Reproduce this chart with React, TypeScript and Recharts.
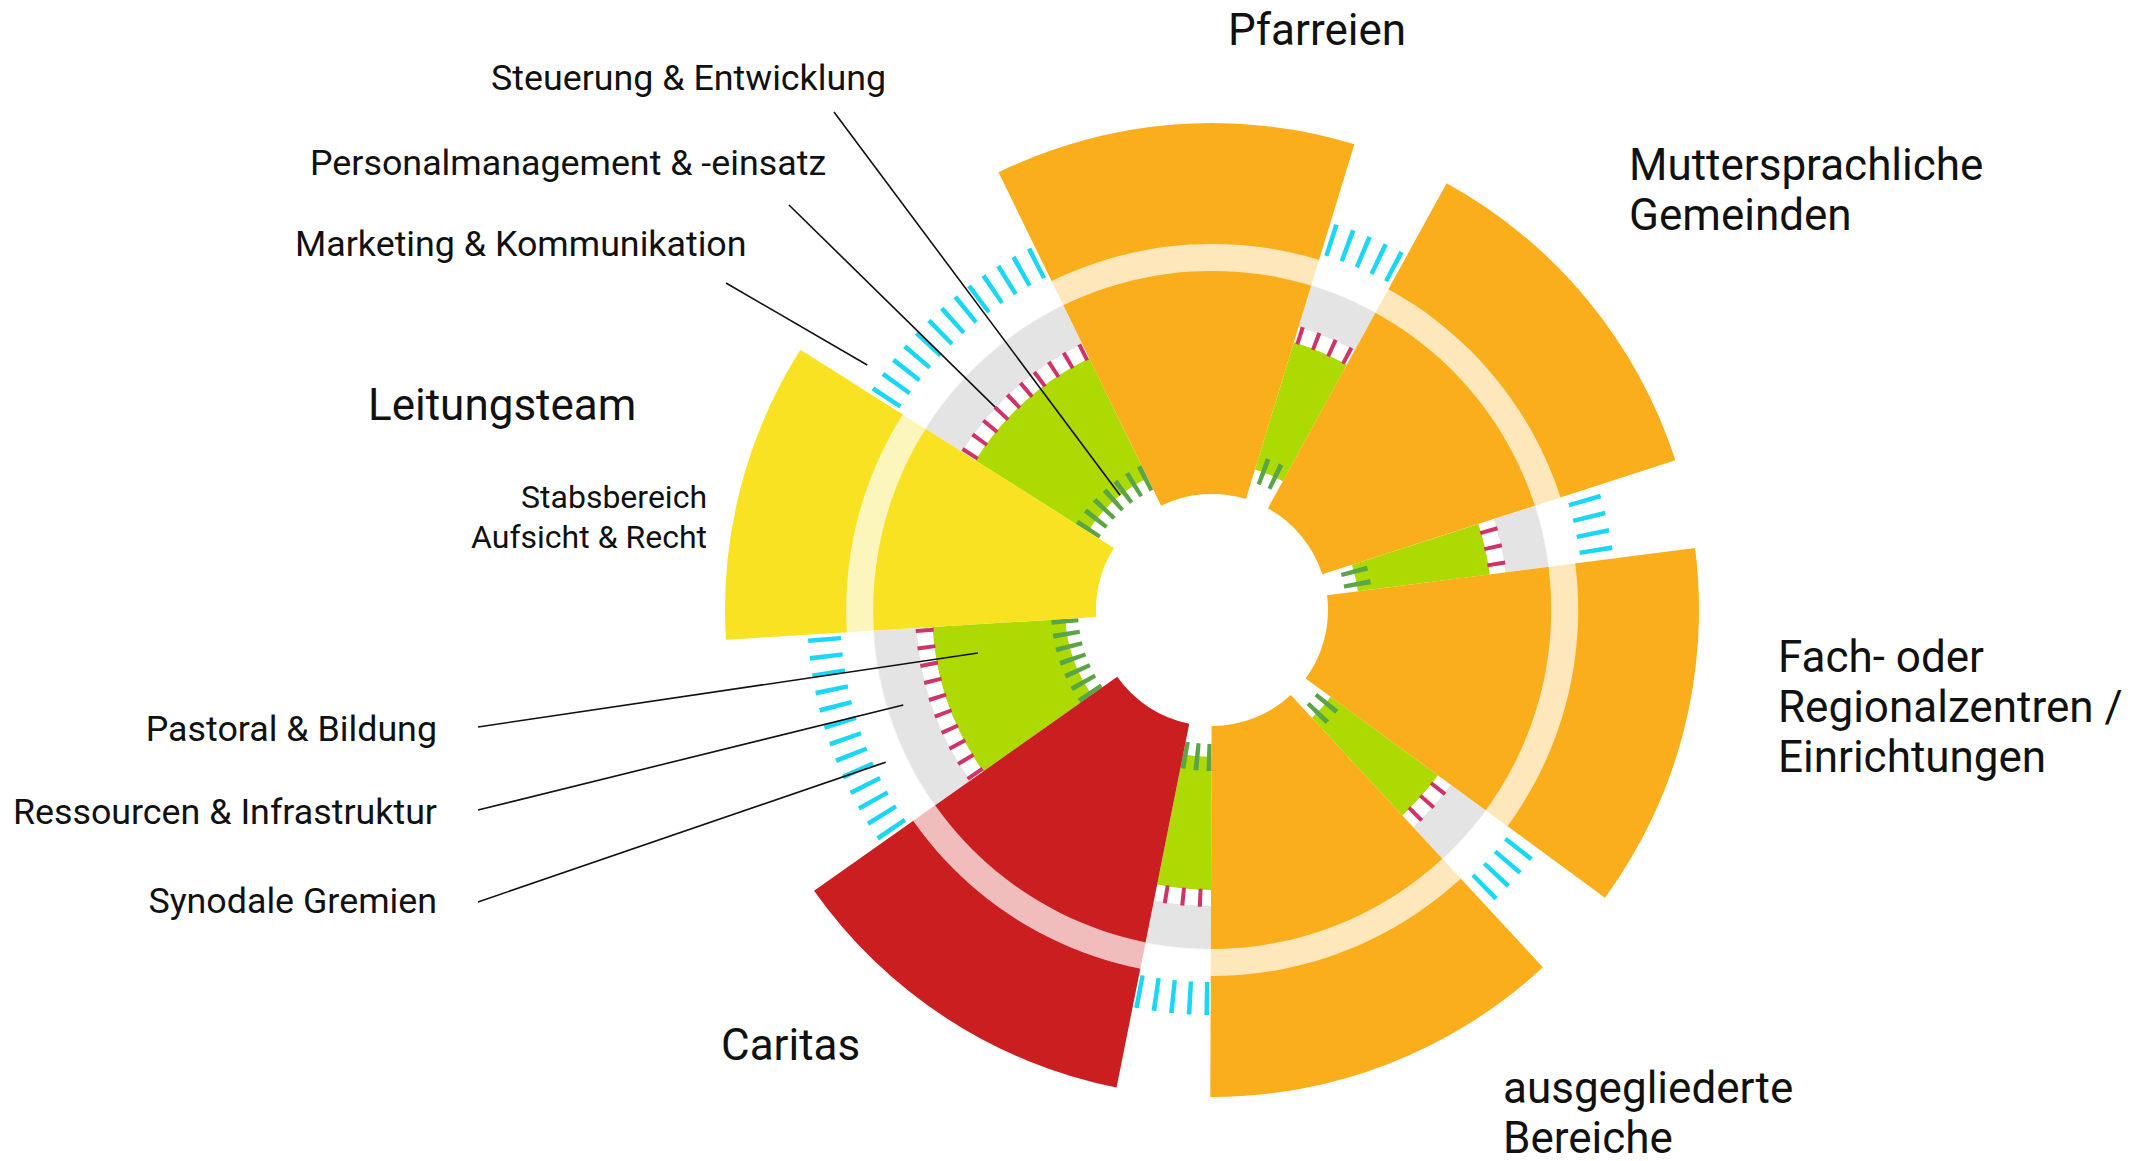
import { PieChart, Pie, Cell } from "recharts";

// Organisationseinheiten im Uhrzeigersinn, beginnend oben bei Pfarreien
const units = [
  "Pfarreien",
  "Muttersprachliche Gemeinden",
  "Fach- oder Regionalzentren / Einrichtungen",
  "ausgegliederte Bereiche",
  "Caritas",
  "Leitungsteam",
];
// Winkelbreite (Grad) jedes Sektors und der Lücke danach
const unitSpans = [43, 43.3, 43.5, 43, 43.5, 35.8];
const gapSpans = [11.8, 10.6, 11, 11.1, 31.7, 31.7];

// Anzahl Striche je Lücke: innen (Steuerung), mitte (Personal), außen (Marketing)
const innerTicks = [2, 2, 2, 3, 7, 7];
const middleTicks = [4, 3, 3, 3, 10, 10];
const outerTicks = [5, 4, 4, 5, 13, 13];

const stabsLabels = [
  "Steuerung & Entwicklung",
  "Personalmanagement & -einsatz",
  "Marketing & Kommunikation",
  "Pastoral & Bildung",
  "Ressourcen & Infrastruktur",
  "Synodale Gremien",
];

const COLORS = {
  orange: "#fbae1b",
  yellow: "#f8e221",
  red: "#cb1e20",
  green: "#acda02",
  darkGreen: "#5aa547",
  pink: "#d0336a",
  gray: "#e4e4e4",
  cyan: "#19d7f5",
};
const unitColors = [COLORS.orange, COLORS.orange, COLORS.orange, COLORS.orange, COLORS.red, COLORS.yellow];

const CX = 1212;
const CY = 610;
const START = 90 + 26; // Pfarreien beginnt bei -26° (Kompass)

const deg = (px: number, r: number) => (px / r) * (180 / Math.PI);

const segmentRows = units.flatMap((name, i) => [
  { name, value: unitSpans[i], kind: "unit", i },
  { name: name + " / Stab", value: gapSpans[i], kind: "gap", i },
]);

function tickRows(counts: number[], step: number, width: number) {
  const rows: { value: number; tick: boolean }[] = [];
  units.forEach((_, i) => {
    const n = counts[i];
    const s = Math.min(step, (gapSpans[i] - width) / Math.max(n - 1, 1));
    const edge = (gapSpans[i] - ((n - 1) * s + width)) / 2;
    rows.push({ value: unitSpans[i] + edge, tick: false });
    for (let k = 0; k < n; k++) {
      rows.push({ value: width, tick: true });
      rows.push({ value: k < n - 1 ? s - width : edge, tick: false });
    }
  });
  return rows;
}

const innerRows = tickRows(innerTicks, 5, deg(4.5, 147));
const middleRows = tickRows(middleTicks, 3.4, deg(4, 287));
const outerRows = tickRows(outerTicks, 2.5, deg(4.5, 388));

const polar = (angle: number, r: number) => {
  const a = (angle * Math.PI) / 180;
  return [CX + r * Math.sin(a), CY - r * Math.cos(a)];
};

// Beschriftung der Stabsbereiche mit Führungslinien (Winkel im Kompass-Sinn)
const callouts = [
  { x: 491, y: 90, anchor: "start", from: [834, 112], to: polar(321.3, 147) },
  { x: 310, y: 175, anchor: "start", from: [789, 205], to: polar(313.1, 297) },
  { x: 295, y: 256, anchor: "start", from: [726, 283], to: polar(305.4, 423) },
  { x: 437, y: 741, anchor: "end", from: [478, 727], to: polar(259.6, 238) },
  { x: 437, y: 824, anchor: "end", from: [478, 810], to: polar(252.9, 323) },
  { x: 437, y: 913, anchor: "end", from: [478, 902], to: polar(245, 360) },
];

const unitLabels = [
  { lines: ["Pfarreien"], x: 1228, y: 45 },
  { lines: ["Muttersprachliche", "Gemeinden"], x: 1629, y: 180 },
  { lines: ["Fach- oder", "Regionalzentren /", "Einrichtungen"], x: 1778, y: 672 },
  { lines: ["ausgegliederte", "Bereiche"], x: 1503, y: 1103 },
  { lines: ["Caritas"], x: 721, y: 1060 },
  { lines: ["Leitungsteam"], x: 368, y: 420 },
];

const ring = {
  cx: CX,
  cy: CY,
  dataKey: "value",
  startAngle: START,
  endAngle: START - 360,
  stroke: "none",
  isAnimationActive: false,
};

export default function App() {
  return (
    <div style={{ position: "absolute", left: 0, top: 0, width: 2133, height: 1161, background: "#fff" }}>
      <PieChart width={2133} height={1161} margin={{ top: 0, right: 0, bottom: 0, left: 0 }}>
        <Pie {...ring} data={segmentRows} innerRadius={147} outerRadius={280}>
          {segmentRows.map((r, i) => (
            <Cell key={i} fill={r.kind === "gap" ? COLORS.green : "transparent"} />
          ))}
        </Pie>
        <Pie {...ring} data={segmentRows} innerRadius={296} outerRadius={340}>
          {segmentRows.map((r, i) => (
            <Cell key={i} fill={r.kind === "gap" ? COLORS.gray : "transparent"} />
          ))}
        </Pie>
        <Pie {...ring} data={innerRows} innerRadius={134} outerRadius={161}>
          {innerRows.map((r, i) => (
            <Cell key={i} fill={r.tick ? COLORS.darkGreen : "transparent"} />
          ))}
        </Pie>
        <Pie {...ring} data={middleRows} innerRadius={279} outerRadius={297}>
          {middleRows.map((r, i) => (
            <Cell key={i} fill={r.tick ? COLORS.pink : "transparent"} />
          ))}
        </Pie>
        <Pie {...ring} data={outerRows} innerRadius={372} outerRadius={405}>
          {outerRows.map((r, i) => (
            <Cell key={i} fill={r.tick ? COLORS.cyan : "transparent"} />
          ))}
        </Pie>
        <Pie {...ring} data={segmentRows} innerRadius={116} outerRadius={487}>
          {segmentRows.map((r, i) => (
            <Cell key={i} fill={r.kind === "unit" ? unitColors[r.i] : "transparent"} />
          ))}
        </Pie>
        <Pie {...ring} data={[{ value: 1 }]} innerRadius={339} outerRadius={366}>
          <Cell fill="#ffffff" fillOpacity={0.7} />
        </Pie>
      </PieChart>
      <svg
        width={2133}
        height={1161}
        style={{ position: "absolute", left: 0, top: 0, pointerEvents: "none" }}
        fontFamily="Roboto, sans-serif"
      >
        {callouts.map((c, i) => (
          <g key={i}>
            <line x1={c.from[0]} y1={c.from[1]} x2={c.to[0]} y2={c.to[1]} stroke="#111" strokeWidth={1.6} />
            <text x={c.x} y={c.y} textAnchor={c.anchor} fontSize={35.8} fill="#111">
              {stabsLabels[i]}
            </text>
          </g>
        ))}
        <text x={707} y={508} textAnchor="end" fontSize={32} fill="#111">
          Stabsbereich
        </text>
        <text x={707} y={548} textAnchor="end" fontSize={32} fill="#111">
          Aufsicht &amp; Recht
        </text>
        {unitLabels.map((l, i) => (
          <text key={i} x={l.x} y={l.y} fontSize={44} fill="#111">
            {l.lines.map((t, k) => (
              <tspan key={k} x={l.x} dy={k === 0 ? 0 : 50}>
                {t}
              </tspan>
            ))}
          </text>
        ))}
      </svg>
    </div>
  );
}
